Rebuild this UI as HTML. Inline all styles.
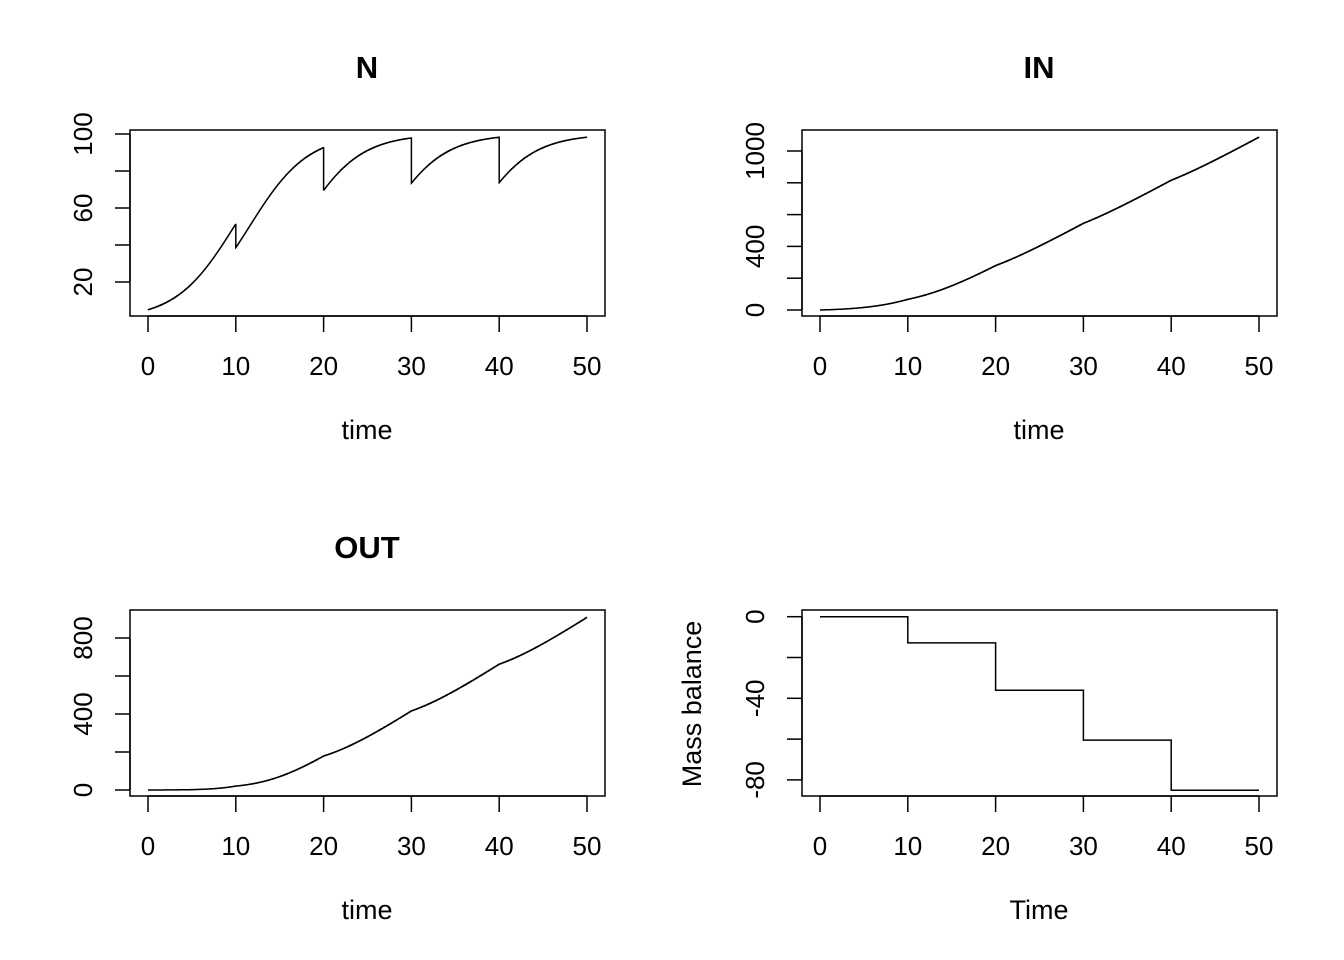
<!DOCTYPE html>
<html><head><meta charset="utf-8"><style>
html,body{margin:0;padding:0;background:#fff;}
svg{display:block;font-family:"Liberation Sans",Arial,sans-serif;}
</style></head><body>
<svg id="s" width="1344" height="960" viewBox="0 0 1344 960" xmlns="http://www.w3.org/2000/svg">
<rect width="1344" height="960" fill="#fff"/>
<g fill="none" stroke="#000" stroke-width="1.5">
<rect x="130" y="130" width="475" height="186"/>
<rect x="802" y="130" width="475" height="186"/>
<rect x="130" y="610" width="475" height="186"/>
<rect x="802" y="610" width="475" height="186"/>
</g>
<g font-size="31" font-weight="bold" text-anchor="middle">
<text x="367" y="78">N</text>
<text x="1039" y="78">IN</text>
<text x="367" y="558">OUT</text>
</g>
<g font-size="27" text-anchor="middle">
<text x="367" y="439">time</text>
<text x="1039" y="439">time</text>
<text x="367" y="919">time</text>
<text x="1039" y="919">Time</text>
<text transform="translate(701,704) rotate(-90)">Mass balance</text>
</g>
<g id="ax" stroke="#000" stroke-width="1.5" fill="none"></g>
<g id="lb" font-size="26" text-anchor="middle"></g>
<g id="cv" stroke="#000" stroke-width="1.5" fill="none"></g>
</svg>
<script>
var NS="http://www.w3.org/2000/svg";
function el(p,t,a,txt){var e=document.createElementNS(NS,t);for(var k in a)e.setAttribute(k,a[k]);if(txt!==undefined)e.textContent=txt;document.getElementById(p).appendChild(e);}
var r=0.3,K=100,dt=0.01,N=5,IN=0,OUT=0,pts=[];
pts.push([0,N,IN,OUT,0]);
function f(n){return [r*n*(1-n/K),r*n,r*n*n/K];}
for(var i=1;i<=5000;i++){
 var t=i*dt;
 var k1=f(N),k2=f(N+dt/2*k1[0]),k3=f(N+dt/2*k2[0]),k4=f(N+dt*k3[0]);
 N+=dt/6*(k1[0]+2*k2[0]+2*k3[0]+k4[0]);
 IN+=dt/6*(k1[1]+2*k2[1]+2*k3[1]+k4[1]);
 OUT+=dt/6*(k1[2]+2*k2[2]+2*k3[2]+k4[2]);
 pts.push([t,N,IN,OUT,N-5-IN+OUT]);
 if(i%1000==0&&i<5000){N*=0.75;pts.push([t,N,IN,OUT,N-5-IN+OUT]);}
}
var panels=[
 {x0:148,x1:587,left:130,bot:316,idx:1,y:function(v){return 282-(v-20)*1.85;},ticks:[20,40,60,80,100],labs:[20,60,100],lx:84},
 {x0:820,x1:1259,left:802,bot:316,idx:2,y:function(v){return 310-v*0.159;},ticks:[0,200,400,600,800,1000],labs:[0,400,1000],lx:756},
 {x0:148,x1:587,left:130,bot:796,idx:3,y:function(v){return 790-v*0.19;},ticks:[0,200,400,600,800],labs:[0,400,800],lx:84},
 {x0:820,x1:1259,left:802,bot:796,idx:4,y:function(v){return 616.7+(-v)*2.04;},ticks:[0,-20,-40,-60,-80],labs:[0,-40,-80],lx:756,step:true}
];
panels.forEach(function(p){
 var sx=(p.x1-p.x0)/50;
 el("ax","line",{x1:p.x0,y1:p.bot,x2:p.x1,y2:p.bot});
 for(var v=0;v<=50;v+=10){var x=p.x0+v*sx;el("ax","line",{x1:x,y1:p.bot,x2:x,y2:p.bot+16});el("lb","text",{x:x,y:p.bot+59},String(v));}
 var ya=p.y(p.ticks[0]),yb=p.y(p.ticks[p.ticks.length-1]);
 el("ax","line",{x1:p.left,y1:ya,x2:p.left,y2:yb});
 p.ticks.forEach(function(v){var y=p.y(v);el("ax","line",{x1:p.left-15,y1:y,x2:p.left,y2:y});});
 p.labs.forEach(function(v){var y=p.y(v);el("lb","text",{x:0,y:0,transform:"translate("+(p.lx+8)+","+y+") rotate(-90)"},String(v));});
 var d="";
 if(p.step){
  var mb=[0];for(var k=1;k<=4;k++){var idx=k*1000+(k-1);mb.push(pts[idx+1][4]);}
  d="M"+p.x0+","+p.y(0);
  for(var k=1;k<=5;k++){var x=p.x0+k*10*sx;d+="L"+x.toFixed(1)+","+p.y(mb[k-1]).toFixed(1);if(k<5)d+="L"+x.toFixed(1)+","+p.y(mb[k]).toFixed(1);}
 } else {
  for(var j=0;j<pts.length;j++){
   var q=pts[j];var x=p.x0+q[0]*sx,y=p.y(q[p.idx]);
   d+=(j==0?"M":"L")+x.toFixed(1)+","+y.toFixed(1);
  }
 }
 el("cv","path",{d:d});
});
</script>
</body></html>
